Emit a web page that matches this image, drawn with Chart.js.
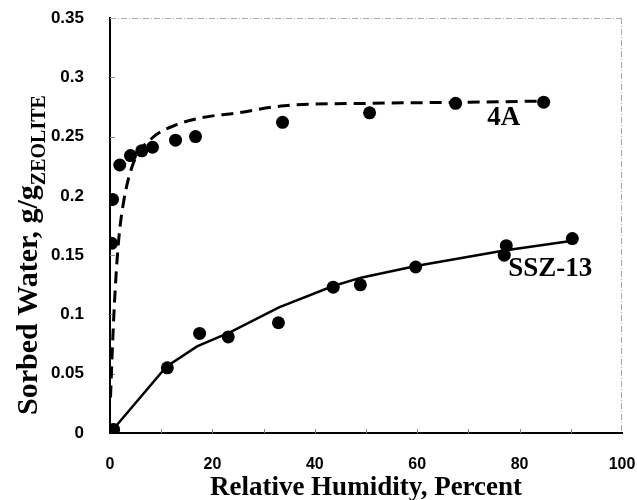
<!DOCTYPE html>
<html>
<head>
<meta charset="utf-8">
<script src="https://cdn.jsdelivr.net/npm/chart.js@4/dist/chart.umd.min.js"></script>
<style>
  html, body { margin: 0; padding: 0; background: #fff; }
  #wrap { width: 637px; height: 500px; }
</style>
</head>
<body>
<div id="wrap"><canvas id="sorption"></canvas></div>
<script>
// --- data ---
const rh4A = [0.3, 0.5, 1.9, 4.0, 6.2, 8.3, 12.8, 16.7, 33.7, 50.7, 67.5, 84.7];
const water4A = [0.160, 0.197, 0.226, 0.234, 0.238, 0.241, 0.247, 0.250, 0.262, 0.270, 0.278, 0.279];

const rhSSZ = [0.7, 11.2, 17.5, 23.1, 32.9, 43.6, 48.9, 59.7, 77.0, 77.4, 90.3];
const waterSSZ = [0.003, 0.055, 0.084, 0.081, 0.093, 0.123, 0.125, 0.140, 0.150, 0.158, 0.164];

// fitted curves
const fitRh4A = [0.1, 0.5, 1.0, 1.7, 2.7, 4.6, 8.3, 13, 18, 25, 34, 50, 70, 85];
const fitWater4A = [0.03, 0.075, 0.12, 0.163, 0.196, 0.228, 0.249, 0.26, 0.266, 0.27, 0.276, 0.278, 0.279, 0.28];

const fitRhSSZ = [0.6, 11, 17, 23.5, 33, 43.6, 49, 60, 77, 90];
const fitWaterSSZ = [0.003, 0.056, 0.073, 0.085, 0.106, 0.124, 0.131, 0.141, 0.154, 0.162];

const xTicks = [0, 20, 40, 60, 80, 100];
const yTicks = [0, 0.05, 0.1, 0.15, 0.2, 0.25, 0.3, 0.35];

function pts(xs, ys) {
    return xs.map((x, i) => ({ x: x, y: ys[i] }));
}

const serif = '"Liberation Serif", "Times New Roman", serif';

// --- extras: y title with subscript, curve labels, frame, inward ticks ---
const extras = {
    id: 'extras',
    beforeDatasetsDraw(chart) {
        const { ctx, chartArea: { top, bottom, left, right }, scales: { x, y } } = chart;
        ctx.save();
        // faint top and right frame
        ctx.strokeStyle = '#aaa';
        ctx.lineWidth = 1;
        ctx.setLineDash([6, 2, 1, 2]);
        ctx.beginPath();
        ctx.moveTo(left, top + 0.5);
        ctx.lineTo(right, top + 0.5);
        ctx.moveTo(right - 0.5, top);
        ctx.lineTo(right - 0.5, bottom);
        ctx.stroke();
        ctx.setLineDash([]);
        // small inward ticks
        ctx.strokeStyle = '#888';
        ctx.beginPath();
        for (let v = 10; v < 100; v += 10) {
            const px = Math.round(x.getPixelForValue(v)) + 0.5;
            ctx.moveTo(px, bottom);
            ctx.lineTo(px, bottom - 4);
        }
        yTicks.slice(1, -1).forEach(v => {
            const py = Math.round(y.getPixelForValue(v)) + 0.5;
            ctx.moveTo(left, py);
            ctx.lineTo(left + 5, py);
        });
        ctx.stroke();
        ctx.restore();
    },
    afterDraw(chart) {
        const { ctx, scales: { x, y } } = chart;
        ctx.save();
        ctx.fillStyle = '#000';

        // y title with subscript
        const main = 'Sorbed Water, g/g';
        const sub = 'ZEOLITE';
        const mainFont = 'bold 30px ' + serif;
        const subFont = 'bold 20px ' + serif;
        ctx.font = mainFont;
        const wMain = ctx.measureText(main).width;
        ctx.font = subFont;
        const wSub = ctx.measureText(sub).width;
        const total = wMain + wSub;
        ctx.translate(37, 255);
        ctx.rotate(-Math.PI / 2);
        ctx.textBaseline = 'alphabetic';
        ctx.textAlign = 'left';
        ctx.font = mainFont;
        ctx.fillText(main, -total / 2, 0);
        ctx.font = subFont;
        ctx.fillText(sub, -total / 2 + wMain, 8);
        ctx.setTransform(1, 0, 0, 1, 0, 0);

        // curve labels
        ctx.font = 'bold 27px ' + serif;
        ctx.textAlign = 'center';
        ctx.textBaseline = 'middle';
        ctx.fillText('4A', x.getPixelForValue(76.9), y.getPixelForValue(0.266));
        ctx.fillText('SSZ-13', x.getPixelForValue(86), y.getPixelForValue(0.138));
        ctx.restore();
    }
};

const config = {
    type: 'scatter',
    data: {
        datasets: [
            {
                label: '4A fit',
                data: pts(fitRh4A, fitWater4A),
                showLine: true,
                borderColor: '#000',
                borderWidth: 3,
                borderDash: [12, 7],
                pointRadius: 0,
                cubicInterpolationMode: 'monotone'
            },
            {
                label: 'SSZ-13 fit',
                data: pts(fitRhSSZ, fitWaterSSZ),
                showLine: true,
                borderColor: '#000',
                borderWidth: 2.5,
                pointRadius: 0,
                tension: 0
            },
            {
                label: '4A',
                data: pts(rh4A, water4A),
                backgroundColor: '#000',
                borderColor: '#000',
                pointRadius: 6.5,
                borderWidth: 0
            },
            {
                label: 'SSZ-13',
                data: pts(rhSSZ, waterSSZ),
                backgroundColor: '#000',
                borderColor: '#000',
                pointRadius: 6.5,
                borderWidth: 0
            }
        ]
    },
    options: {
        responsive: true,
        maintainAspectRatio: false,
        animation: false,
        layout: { padding: { top: 18, right: 15, left: 0, bottom: 0 } },
        plugins: {
            legend: { display: false },
            tooltip: { enabled: false }
        },
        scales: {
            x: {
                type: 'linear',
                min: 0,
                max: 100,
                afterFit(scale) {
                    scale.height = 67;
                    scale.paddingLeft = 0;
                    scale.paddingRight = 0;
                },
                afterBuildTicks(scale) { scale.ticks = xTicks.map(v => ({ value: v })); },
                grid: { display: false },
                border: { display: true, color: '#000', width: 2 },
                ticks: {
                    color: '#000',
                    padding: 14,
                    maxRotation: 0,
                    font: { family: '"Liberation Sans", Arial, sans-serif', size: 16, weight: 'bold' }
                },
                title: {
                    display: true,
                    text: 'Relative Humidity, Percent',
                    color: '#000',
                    padding: { top: 0, bottom: -2 },
                    font: { family: serif, size: 27, weight: 'bold', lineHeight: 1 }
                }
            },
            y: {
                type: 'linear',
                min: 0,
                max: 0.35,
                afterFit(scale) {
                    scale.width = 110;
                    scale.paddingTop = 0;
                    scale.paddingBottom = 0;
                },
                afterBuildTicks(scale) { scale.ticks = yTicks.map(v => ({ value: v })); },
                grid: { display: false },
                border: { display: true, color: '#000', width: 2 },
                ticks: {
                    color: '#000',
                    padding: 18,
                    callback: v => String(+v.toFixed(2)),
                    font: { family: '"Liberation Sans", Arial, sans-serif', size: 17, weight: 'bold' }
                }
            }
        }
    },
    plugins: [extras]
};

new Chart(document.getElementById('sorption'), config);
</script>
</body>
</html>
